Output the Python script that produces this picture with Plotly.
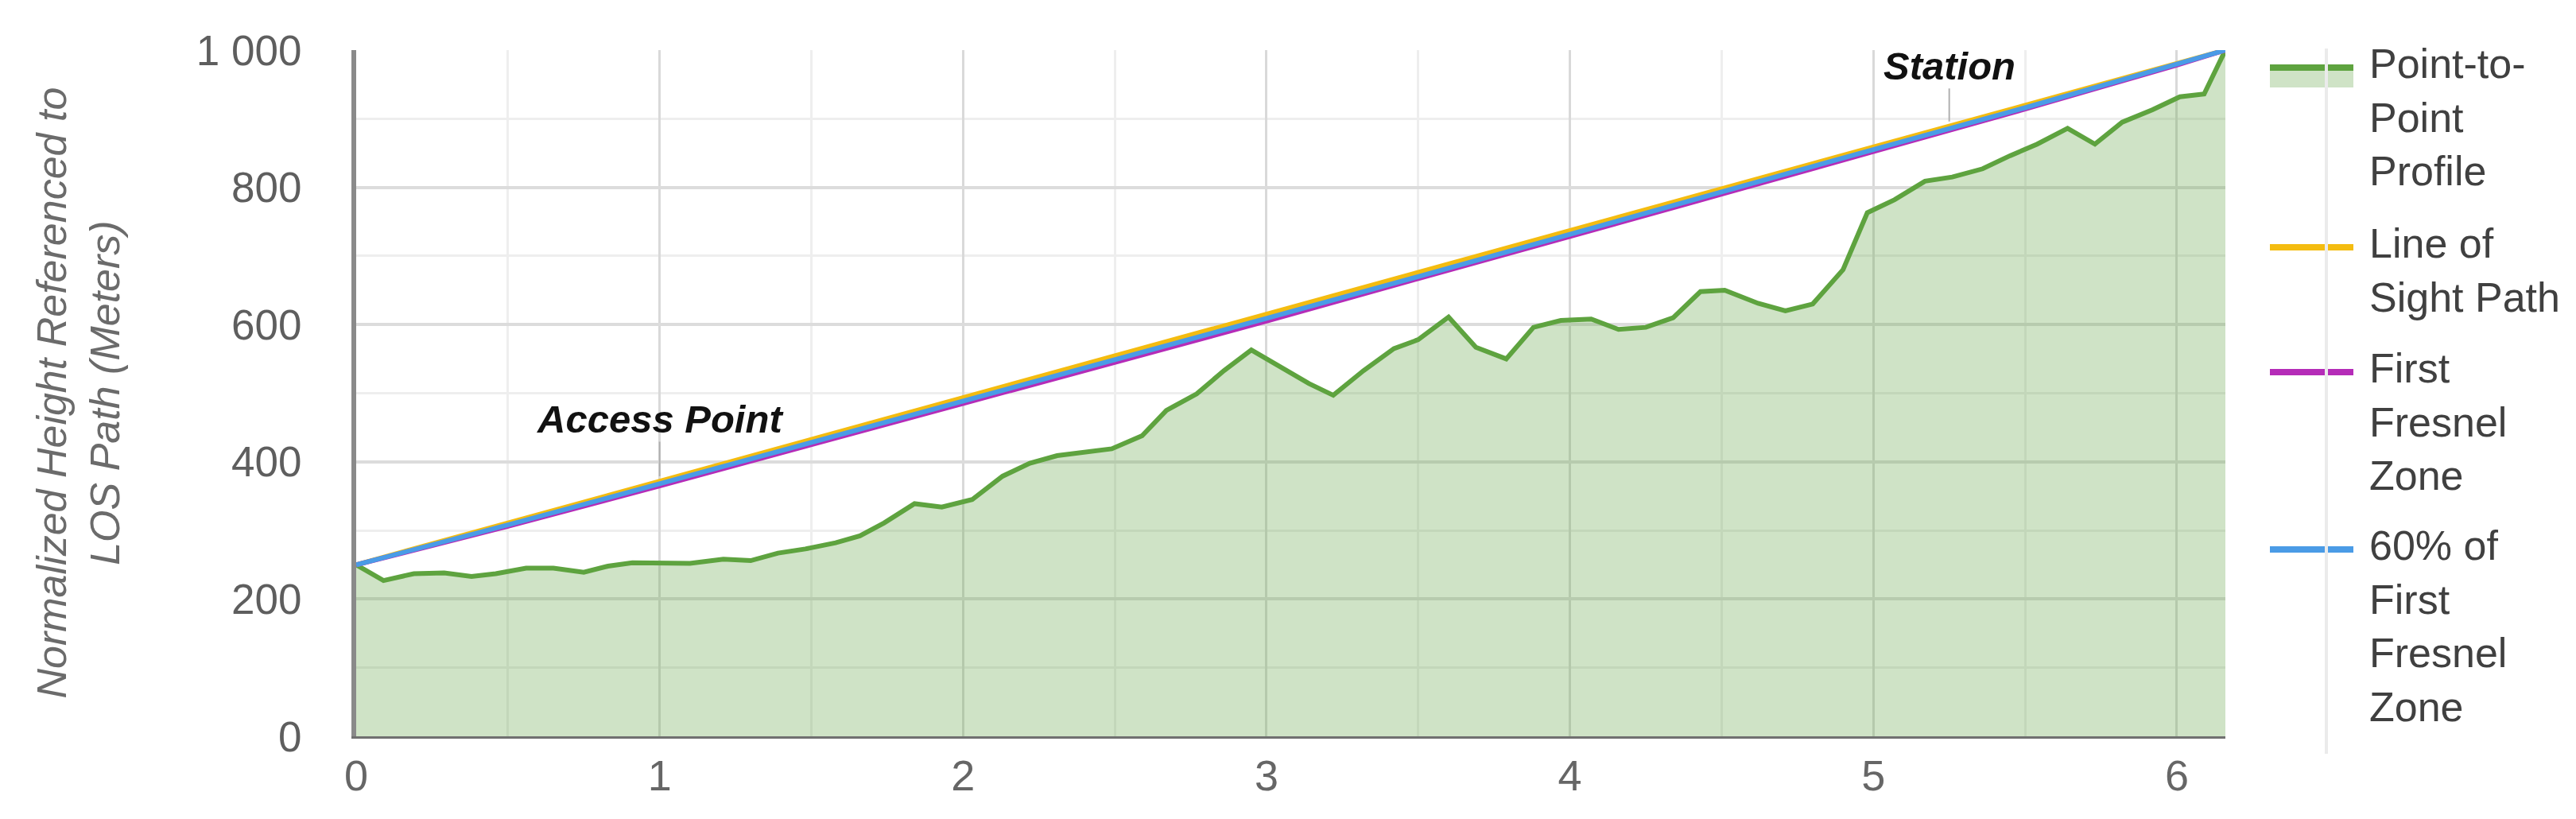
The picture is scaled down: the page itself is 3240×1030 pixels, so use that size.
import plotly.graph_objects as go

# ---- data ----
dist_km = [0, 0.09, 0.19, 0.29, 0.38, 0.46, 0.56, 0.65, 0.75, 0.83,
           0.91, 1.0, 1.1, 1.21, 1.3, 1.39, 1.48, 1.58, 1.66, 1.74,
           1.84, 1.93, 2.03, 2.13, 2.22, 2.31, 2.39, 2.49, 2.59, 2.67,
           2.77, 2.86, 2.95, 3.05, 3.14, 3.22, 3.32, 3.42, 3.5, 3.6,
           3.69, 3.79, 3.88, 3.97, 4.07, 4.16, 4.25, 4.34, 4.43, 4.51,
           4.62, 4.71, 4.8, 4.9, 4.98, 5.07, 5.17, 5.26, 5.36, 5.45,
           5.54, 5.64, 5.73, 5.82, 5.92, 6.01, 6.09, 6.16]
profile_m = [250, 227, 237, 238, 233, 237, 245, 245, 239, 248,
             253, 252, 252, 258, 256, 267, 273, 282, 292, 311,
             339, 334, 345, 379, 398, 409, 413, 419, 438, 475,
             499, 533, 563, 537, 514, 497, 533, 565, 578, 611,
             567, 550, 596, 606, 608, 593, 596, 610, 648, 650,
             631, 620, 630, 680, 763, 782, 809, 815, 827, 846,
             863, 886, 863, 895, 913, 932, 936, 1000]

path_km = [0, 0.5, 1, 1.5, 2, 2.5, 3, 3.5, 4, 4.5, 5, 5.5, 6, 6.16]
los_m = [250, 311, 372, 433, 494, 554, 615, 676, 737, 798, 859, 920, 981, 1000]
fresnel_m = [250, 306, 365, 425, 485, 545, 605, 667, 728, 790, 852, 914, 978, 1000]
fresnel60_m = [250, 308, 368, 428, 489, 548, 609, 670, 732, 793, 855, 916, 979, 1000]

y_ticks = [0, 200, 400, 600, 800, 1000]
y_tick_text = ["0", "200", "400", "600", "800", "1 000"]
x_ticks = [0, 1, 2, 3, 4, 5, 6]

legend_names = ["Point-to-<br>Point<br>Profile", "Line of<br>Sight Path",
                "First<br>Fresnel<br>Zone", "60% of<br>First<br>Fresnel<br>Zone"]

GREEN = "#5ea33f"
YELLOW = "#f4bc10"
MAGENTA = "#b52cb8"
BLUE = "#4a9be6"
FILL = "rgba(106,168,79,0.32)"

fig = go.Figure()
fig.add_trace(go.Scatter(x=dist_km, y=profile_m, mode="lines", fill="tozeroy",
                         fillcolor=FILL, line=dict(color=GREEN, width=6),
                         showlegend=False))
fig.add_trace(go.Scatter(x=path_km, y=los_m, mode="lines",
                         line=dict(color=YELLOW, width=6), showlegend=False))
fig.add_trace(go.Scatter(x=path_km, y=fresnel_m, mode="lines",
                         line=dict(color=MAGENTA, width=6), showlegend=False))
fig.add_trace(go.Scatter(x=path_km, y=fresnel60_m, mode="lines",
                         line=dict(color=BLUE, width=6), showlegend=False))

W, H = 3240, 1030
L, R, T, B = 440, 449, 55, 112
pw, ph = W - L - R, H - T - B

def px_x(px):
    return (px - L) / pw

def px_y(py):
    return (H - B - py) / ph

annotations = []
shapes = []

# y-axis title
annotations.append(dict(
    text="Normalized Height Referenced to<br>LOS Path (Meters)",
    xref="paper", yref="paper", x=px_x(90), y=0.5, xanchor="center", yanchor="middle",
    textangle=-90, showarrow=False,
    font=dict(family="Liberation Sans, Arial, sans-serif", size=52, color="#6b6b6b",
              style="italic")))

# point labels
annotations.append(dict(text="<b><i>Access Point</i></b>", x=1.0, y=372, xref="x", yref="y",
                        showarrow=True, arrowhead=0, arrowwidth=2, arrowcolor="#b0b0b0",
                        ax=0, ay=-78, standoff=6,
                        font=dict(family="Liberation Sans, Arial, sans-serif", size=49, color="#111111")))
annotations.append(dict(text="<b><i>Station</i></b>", x=5.25, y=889, xref="x", yref="y",
                        showarrow=True, arrowhead=0, arrowwidth=2, arrowcolor="#b0b0b0",
                        ax=0, ay=-76, standoff=6,
                        font=dict(family="Liberation Sans, Arial, sans-serif", size=49, color="#111111")))

# custom legend
leg_colors = [GREEN, YELLOW, MAGENTA, BLUE]
leg_centers = [77, 303, 460, 683]
x0, x1 = px_x(2847), px_x(2952)
shapes.append(dict(type="rect", xref="paper", yref="paper", x0=x0, x1=x1,
                   y0=px_y(102), y1=px_y(77), fillcolor=FILL, line=dict(width=0)))
for c, yc, name in zip(leg_colors, leg_centers, legend_names):
    shapes.append(dict(type="line", xref="paper", yref="paper", x0=x0, x1=x1,
                       y0=px_y(yc), y1=px_y(yc), line=dict(color=c, width=8)))
    annotations.append(dict(text=name, xref="paper", yref="paper", x=px_x(2970),
                            y=px_y(yc - 36), xanchor="left", yanchor="top", align="left",
                            showarrow=False,
                            font=dict(family="Liberation Sans, Arial, sans-serif", size=52,
                                      color="#404040")))
shapes.append(dict(type="line", xref="paper", yref="paper", x0=px_x(2918), x1=px_x(2918),
                   y0=px_y(53), y1=px_y(940), line=dict(color="#ebebeb", width=4)))

fig.update_layout(
    width=W, height=H, autosize=False,
    margin=dict(l=L, r=R, t=T, b=B, autoexpand=False),
    paper_bgcolor="white", plot_bgcolor="white",
    showlegend=False,
    annotations=annotations, shapes=shapes,
    font=dict(family="Liberation Sans, Arial, sans-serif"),
)
fig.update_xaxes(range=[0, 6.16], tickvals=x_ticks, ticks="", showgrid=True, automargin=False,
                 gridcolor="#d9d9d9", gridwidth=3, zeroline=False,
                 showline=True, linecolor="#707070", linewidth=3,
                 ticklabelstandoff=0,
                 tickfont=dict(size=54, color="#666666"),
                 minor=dict(dtick=0.5, showgrid=True, gridcolor="#eeeeee", gridwidth=3))
fig.update_yaxes(range=[0, 1000], tickvals=y_ticks, ticktext=y_tick_text, ticks="", automargin=False,
                 showgrid=True, gridcolor="#dcdcdc", gridwidth=4, zeroline=False,
                 showline=True, linecolor="#8a8a8a", linewidth=6,
                 ticklabelstandoff=52,
                 tickfont=dict(size=53, color="#5e5e5e"),
                 minor=dict(dtick=100, showgrid=True, gridcolor="#eeeeee", gridwidth=3))

fig.write_html("out.html")
